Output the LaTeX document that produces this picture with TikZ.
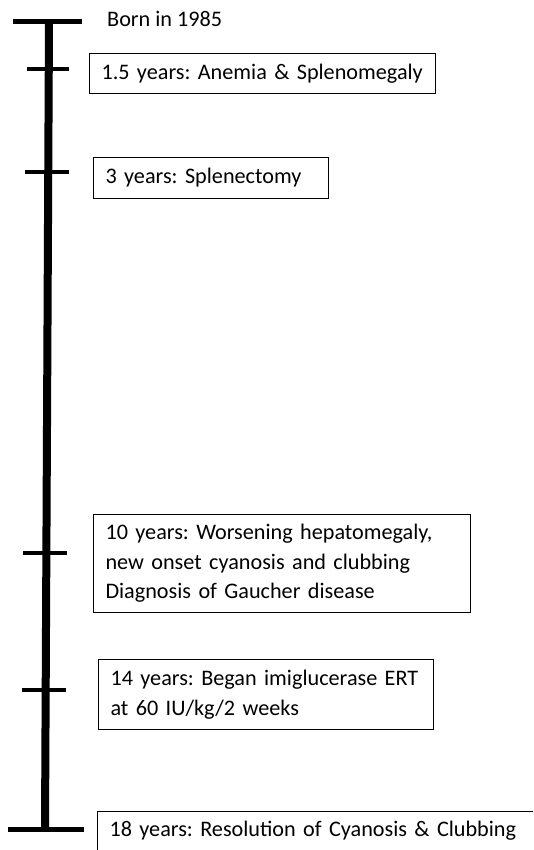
\documentclass[tikz,border=0pt]{standalone}
\usepackage{fontspec}
\setmainfont{Carlito}
\newcommand{\evfont}{\fontsize{22.2}{29.5}\selectfont\frenchspacing}
\begin{document}
\begin{tikzpicture}[x=1pt,y=-1pt,
			ev/.style={draw,line width=1pt,anchor=north west,inner xsep=12pt,inner ysep=0pt,align=left,font=\evfont},
			tick/.style={line width=4pt},
			bar/.style={line width=5pt}]
			\useasboundingbox (0,0) rectangle (533,850);
			\clip (0,0) rectangle (533,850);
			\coordinate (top) at (49,22);
			\coordinate (bot) at (45,829);
			\draw[line width=8pt] (top) -- (bot);
			\draw[bar] (13,22) -- (82,22);
			\draw[bar] (8,829) -- (84,829);
			\draw[tick] (27,69) -- (69,69);
			\draw[tick] (25,172) -- (69,172);
			\draw[tick] (23,553) -- (67,553);
			\draw[tick] (22,690) -- (66,690);
			\node[anchor=base west,inner sep=0pt,font=\evfont] (born) at (107,27) {Born in 1985};
			\node[ev,text width=322pt,minimum height=40pt] (e1) at (89,53) {\mbox{1.5 years: Anemia \& Splenomegaly}};
			\node[ev,text width=211pt,minimum height=41pt] (e2) at (93,157) {3 years: Splenectomy};
			\node[ev,text width=353pt,minimum height=98pt] (e3) at (93,514) {10 years: Worsening hepatomegaly,\\new onset cyanosis and clubbing\\Diagnosis of Gaucher disease};
			\node[ev,text width=311pt,minimum height=70pt] (e4) at (98,659) {14 years: Began imiglucerase ERT\\at 60 IU/kg/2 weeks};
			\node[ev,text width=450pt,inner ysep=10pt,text depth=60pt] (e5) at (97,811) {\mbox{18 years: Resolution of Cyanosis \& Clubbing}};
		\end{tikzpicture}
\end{document}
